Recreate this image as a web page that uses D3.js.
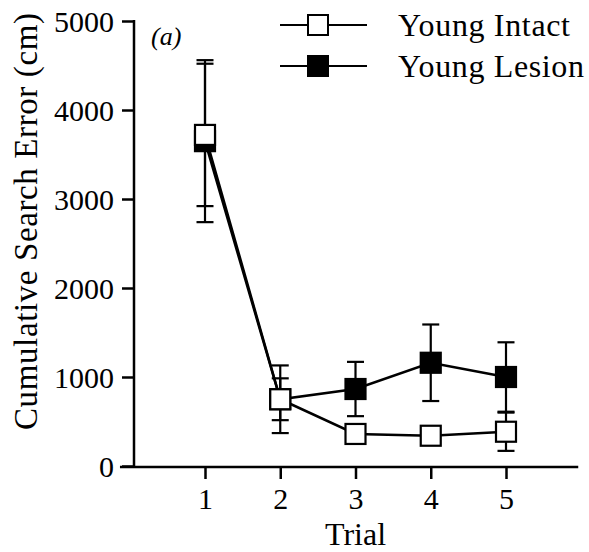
<!DOCTYPE html>
<html lang="en">
<head>
    <meta charset="UTF-8">
    <title>Cumulative Search Error</title>
    <script src="https://cdn.jsdelivr.net/npm/d3@7"></script>
    <style>
        body { margin: 0; background: #fff; }
    </style>
</head>
<body>
    <div id="graph"></div>

    <script>
        // values
        const trials = [1, 2, 3, 4, 5];
        const intactMean = [3720, 750, 360, 340, 385];
        const intactSem = [800, 235, 60, 50, 215];
        const lesionMean = [3650, 750, 865, 1160, 1000];
        const lesionSem = [910, 380, 305, 430, 390];
        const yTicks = [0, 1000, 2000, 3000, 4000, 5000];
        const seriesNames = ["Young Intact", "Young Lesion"];

        const width = 589, height = 552;
        const axisX = 134, axisY = 467;
        const serif = "'Liberation Serif', Tinos, 'Times New Roman', Times, serif";

        const svg = d3.select("#graph")
            .append("svg")
            .attr("width", width)
            .attr("height", height)
            .style("font-family", serif);

        const x = d3.scaleLinear().domain([0, 6]).range([129.75, 581.25]);
        const y = d3.scaleLinear().domain([0, 5000]).range([466, 21]);

        // Y axis
        const yAxis = svg.append("g")
            .attr("transform", `translate(${axisX},0)`)
            .call(d3.axisLeft(y).tickValues(yTicks).tickSize(12).tickPadding(8).tickFormat(d3.format("d")));
        yAxis.attr("font-family", null);
        yAxis.select(".domain").remove();
        yAxis.selectAll(".tick line").attr("stroke", "#000").attr("stroke-width", 2.5);
        yAxis.selectAll(".tick text")
            .style("font-family", serif)
            .style("font-size", "30px")
            .attr("dy", "0.35em");
        yAxis.append("line")
            .attr("x1", 0).attr("x2", 0)
            .attr("y1", y(5000) - 1).attr("y2", axisY + 1)
            .attr("stroke", "#000").attr("stroke-width", 2.5);

        // X axis
        const xAxis = svg.append("g")
            .attr("transform", `translate(0,${axisY})`)
            .call(d3.axisBottom(x).tickValues(trials).tickSize(12).tickPadding(9).tickFormat(d3.format("d")));
        xAxis.attr("font-family", null);
        xAxis.select(".domain").remove();
        xAxis.selectAll(".tick line").attr("stroke", "#000").attr("stroke-width", 2.5);
        xAxis.selectAll(".tick text")
            .style("font-family", serif)
            .style("font-size", "30px");
        xAxis.append("line")
            .attr("x1", x(-0.13)).attr("x2", x(5.96))
            .attr("y1", 0).attr("y2", 0)
            .attr("stroke", "#000").attr("stroke-width", 2.5);

        // axis titles
        svg.append("text")
            .attr("transform", `translate(37,${(13 + 430) / 2}) rotate(-90)`)
            .attr("text-anchor", "middle")
            .attr("textLength", 417)
            .attr("lengthAdjust", "spacing")
            .style("font-family", serif)
            .style("font-size", "33px")
            .text("Cumulative Search Error (cm)");

        svg.append("text")
            .attr("x", x(3))
            .attr("y", 545)
            .attr("text-anchor", "middle")
            .style("font-family", serif)
            .style("font-size", "32px")
            .text("Trial");

        svg.append("text")
            .attr("x", 151)
            .attr("y", 45)
            .style("font-family", serif)
            .style("font-size", "26px")
            .style("font-style", "italic")
            .text("(a)");

        const series = [
            { name: seriesNames[0], mean: intactMean, sem: intactSem, fill: "#fff" },
            { name: seriesNames[1], mean: lesionMean, sem: lesionSem, fill: "#000" }
        ];

        const line = d3.line()
            .x((d, i) => x(trials[i]))
            .y(d => y(d));

        // connecting lines
        series.forEach(s => {
            svg.append("path")
                .datum(s.mean)
                .attr("fill", "none")
                .attr("stroke", "#000")
                .attr("stroke-width", 2.5)
                .attr("d", line);
        });

        // error bars
        const capW = 8.5;
        series.forEach(s => {
            const g = svg.append("g").attr("stroke", "#000").attr("stroke-width", 2.2);
            trials.forEach((t, i) => {
                const lo = y(s.mean[i] - s.sem[i]), hi = y(s.mean[i] + s.sem[i]);
                g.append("line").attr("x1", x(t)).attr("x2", x(t)).attr("y1", hi).attr("y2", lo);
                g.append("line").attr("x1", x(t) - capW).attr("x2", x(t) + capW).attr("y1", hi).attr("y2", hi);
                g.append("line").attr("x1", x(t) - capW).attr("x2", x(t) + capW).attr("y1", lo).attr("y2", lo);
            });
        });

        // markers, lesion first so the open squares sit on top
        const box = 20;
        [series[1], series[0]].forEach(s => {
            svg.append("g").selectAll("rect")
                .data(s.mean)
                .enter()
                .append("rect")
                .attr("x", (d, i) => x(trials[i]) - box / 2)
                .attr("y", d => y(d) - box / 2)
                .attr("width", box)
                .attr("height", box)
                .attr("fill", s.fill)
                .attr("stroke", "#000")
                .attr("stroke-width", 2.2);
        });

        // legend
        const legendY = [25, 66];
        series.forEach((s, i) => {
            const g = svg.append("g").attr("transform", `translate(0,${legendY[i]})`);
            g.append("line")
                .attr("x1", 280).attr("x2", 367)
                .attr("y1", 0).attr("y2", 0)
                .attr("stroke", "#000").attr("stroke-width", 2);
            g.append("rect")
                .attr("x", 318 - box / 2).attr("y", -box / 2)
                .attr("width", box).attr("height", box)
                .attr("fill", s.fill)
                .attr("stroke", "#000").attr("stroke-width", 2);
            g.append("text")
                .attr("x", 398)
                .attr("y", 11)
                .attr("textLength", i === 0 ? 172 : 186)
                .attr("lengthAdjust", "spacing")
                .style("font-family", serif)
                .style("font-size", "32px")
                .text(s.name);
        });
    </script>
</body>
</html>
